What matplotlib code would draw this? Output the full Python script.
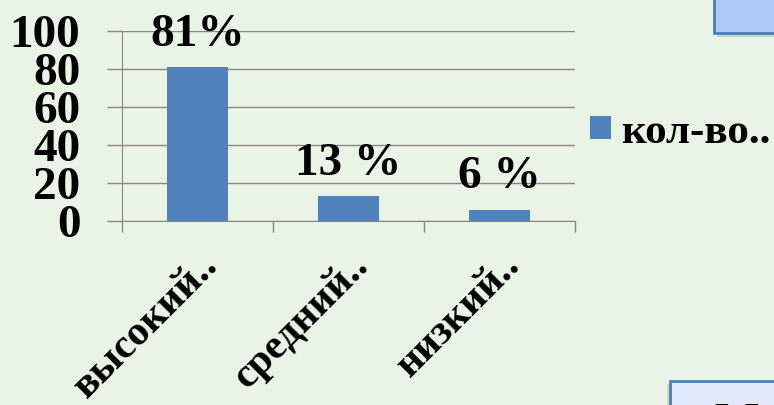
import matplotlib
matplotlib.use("Agg")
import matplotlib.pyplot as plt
import matplotlib.transforms as mtransforms
from matplotlib.patches import Rectangle

categories = ["высокий..", "средний..", "низкий.."]
values = [81, 13, 6]
value_labels = ["81%", "13 %", "6 %"]
series_name = "кол-во.."
yticks = [0, 20, 40, 60, 80, 100]

W, H = 774, 405
DPI = 100
bg = "#e9f3e6"
bar_color = "#4f81bd"
grid_color = "#878787"
serif = ["Liberation Serif", "DejaVu Serif"]

fig = plt.figure(figsize=(W / DPI, H / DPI), dpi=DPI, facecolor=bg)

def fx(px):
    return px / W

def fy(py):
    return 1 - py / H

# decorative boxes (partially visible shapes)
shadow1 = Rectangle((fx(717), fy(37)), fx(80), 40 / H, transform=fig.transFigure,
                    facecolor="#b9c3b5", edgecolor="none", alpha=0.6, zorder=0)
fig.patches.append(shadow1)
box1 = Rectangle((fx(714), fy(33)), fx(80), 43 / H, transform=fig.transFigure,
                 facecolor="#adcaf8", edgecolor="#4a7ebb", lw=2, zorder=1)
fig.patches.append(box1)
shadow2 = Rectangle((fx(667), fy(430)), fx(120), 46 / H, transform=fig.transFigure,
                    facecolor="#c5cec2", edgecolor="none", alpha=0.6, zorder=0)
fig.patches.append(shadow2)
box2 = Rectangle((fx(670), fy(430)), fx(120), 49 / H, transform=fig.transFigure,
                 facecolor="#dfe9fb", edgecolor="#4a7ebb", lw=2, zorder=1)
fig.patches.append(box2)
fig.text(fx(714), fy(435), "М", fontsize=34, fontweight="bold", family=serif,
         ha="left", va="baseline", color="black", zorder=2)

ax = fig.add_axes([fx(122), fy(221), fx(575) - fx(122), (221 - 31) / H])
ax.set_facecolor("none")

x = list(range(len(categories)))
bars = ax.bar(x, values, width=0.4, color=bar_color, zorder=3, label=series_name)

ax.set_xlim(-0.5, len(categories) - 0.5)
ax.set_ylim(0, 100)
ax.set_yticks(yticks)
ax.set_yticklabels([str(v) for v in yticks], fontsize=34, fontweight="bold",
                   family=serif)
ax.yaxis.grid(True, color=grid_color, lw=1, zorder=0)
ax.tick_params(axis="y", length=11, width=1, color=grid_color, pad=19)

ax.set_xticks(x)
ax.set_xticklabels(categories, fontsize=30, fontweight="bold", family=serif,
                   rotation=45, ha="right", va="top")
ax.tick_params(axis="x", which="major", length=0, pad=18)
ax.set_xticks([i - 0.5 for i in range(len(categories) + 1)], minor=True)
ax.tick_params(axis="x", which="minor", length=8, width=1, color=grid_color)
offset = mtransforms.ScaledTranslation(28 / DPI, 0, fig.dpi_scale_trans)
for lbl in ax.get_xticklabels():
    lbl.set_transform(lbl.get_transform() + offset)

for s in ["top", "right"]:
    ax.spines[s].set_visible(False)
ax.spines["left"].set_color(grid_color)
ax.spines["bottom"].set_color(grid_color)
ax.spines["left"].set_bounds(0, 100)

ax.bar_label(bars, labels=value_labels, padding=8, fontsize=34, fontweight="bold",
             family=serif, zorder=4)

fig.legend(handles=[bars], labels=[series_name], loc="center left",
           bbox_to_anchor=(fx(590), fy(133)), frameon=False, borderpad=0,
           borderaxespad=0, handlelength=0.49, handleheight=0.44,
           handletextpad=0.23, prop={"family": serif, "size": 31, "weight": "bold"})

fig.savefig("out.png", dpi=DPI, facecolor=bg)
